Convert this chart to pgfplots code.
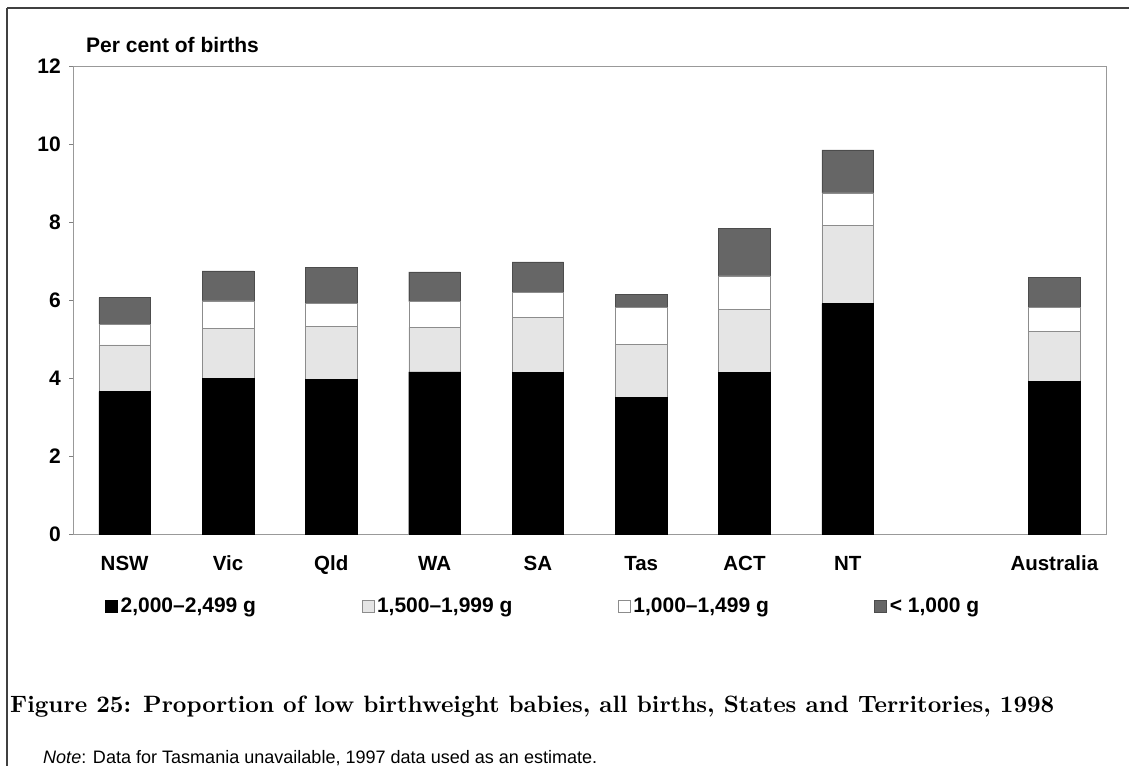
\documentclass[border=0pt]{standalone}
\usepackage{fontspec}
\setsansfont{Liberation Sans}
\usepackage{pgfplots}
\pgfplotsset{compat=1.18}
\definecolor{darkseg}{gray}{0.40}
\definecolor{lightseg}{gray}{0.90}
\begin{document}
\begin{tikzpicture}
\path[use as bounding box] (0pt,0pt) rectangle (1129pt,-770pt);
\draw[black!75, line width=1.1pt] (7pt,-8pt) -- (1129pt,-8pt);
\draw[black!75, line width=1.1pt] (7pt,-8pt) -- (7pt,-766pt);
\begin{axis}[
  at={(73pt,-534pt)}, anchor=south west,
  scale only axis, width=1033pt, height=468pt,
  ybar stacked, bar width=0.5,
  xmin=-0.5, xmax=9.5, ymin=0, ymax=12,
  xtick={0,1,2,3,4,5,6,7,9},
  xticklabels={NSW,Vic,Qld,WA,SA,Tas,ACT,NT,Australia},
  ytick={0,2,4,6,8,10,12},
  /pgf/number format/assume math mode=true,
  axis line style={black!40, line width=0.6pt},
  tick align=outside, major tick length=4pt,
  ytick pos=left, xtick pos=bottom,
  xtick style={draw=none},
  ytick style={black!50, line width=0.6pt},
  yticklabel style={font=\sffamily\bfseries\fontsize{21}{21}\selectfont, inner sep=0pt, xshift=-8pt},
  xticklabel style={font=\sffamily\bfseries\fontsize{20.5}{21}\selectfont, inner sep=0pt, anchor=base, yshift=-32pt},
  legend columns=4,
  legend image code/.code={\draw[#1] (0pt,0pt) rectangle (12pt,12pt);},
  legend style={draw=none, fill=none, inner sep=0pt,
    at={(axis description cs:0.031,-0.154)}, anchor=west,
    font=\sffamily\bfseries\fontsize{21}{21}\selectfont,
    nodes={inner sep=0pt, anchor=base west},
    /tikz/every odd column/.append style={column sep=3pt}},
]
\addplot+[fill=black, draw=black] coordinates {(0,3.65) (1,4.00) (2,3.96) (3,4.16) (4,4.14) (5,3.50) (6,4.14) (7,5.91) (9,3.91)};
\addlegendentry{\makebox[241pt][l]{2,000–2,499 g}}
\addplot+[fill=lightseg, draw=black!45] coordinates {(0,1.20) (1,1.28) (2,1.36) (3,1.14) (4,1.42) (5,1.36) (6,1.62) (7,2.01) (9,1.28)};
\addlegendentry{\makebox[241pt][l]{1,500–1,999 g}}
\addplot+[fill=white, draw=black!45] coordinates {(0,0.53) (1,0.70) (2,0.59) (3,0.66) (4,0.64) (5,0.95) (6,0.86) (7,0.83) (9,0.62)};
\addlegendentry{\makebox[241pt][l]{1,000–1,499 g}}
\addplot+[fill=darkseg, draw=black!70] coordinates {(0,0.68) (1,0.77) (2,0.93) (3,0.76) (4,0.78) (5,0.34) (6,1.22) (7,1.10) (9,0.77)};
\addlegendentry{\makebox[241pt][l]{< 1,000 g}}
\end{axis}
\node[anchor=base west, inner sep=0pt, font=\sffamily\bfseries\fontsize{21}{21}\selectfont] at (86pt,-52.5pt) {Per cent of births};
\node[anchor=base west, inner sep=0pt] at (10pt,-712pt) {\resizebox{1044pt}{!}{\bfseries Figure 25: Proportion of low birthweight babies, all births, States and Territories, 1998}};
\node[anchor=base west, inner sep=0pt] at (43pt,-763pt) {\resizebox{554pt}{!}{\sffamily\textit{Note}: Data for Tasmania unavailable, 1997 data used as an estimate.}};
\end{tikzpicture}
\end{document}
